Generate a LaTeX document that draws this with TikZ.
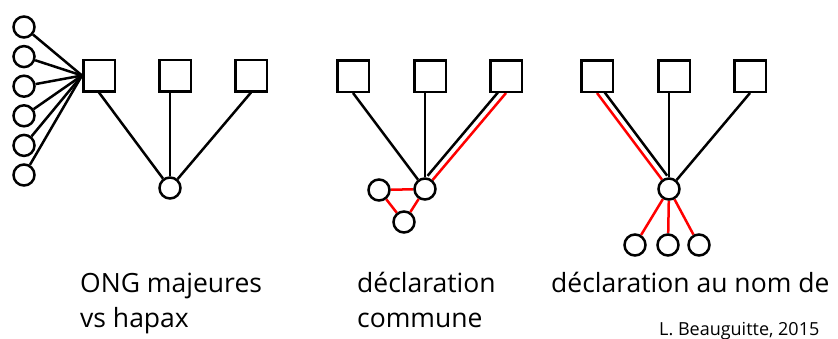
\documentclass[tikz,border=0pt]{standalone}
\usepackage{fontspec}
\setmainfont{Open Sans}
\usetikzlibrary{backgrounds}
\definecolor{linkred}{RGB}{255,0,0}

\begin{document}
\begin{tikzpicture}[x=1pt,y=-1pt,
    org/.style={draw,line width=2.5pt,fill=white,minimum size=31.5pt,inner sep=0pt},
    act/.style={draw,circle,line width=2.5pt,fill=white,minimum size=21pt,inner sep=0pt},
    tie/.style={line width=2.5pt},
    redtie/.style={line width=2.5pt,linkred},
    lbl/.style={anchor=base west,inner sep=0pt,font=\fontsize{26.5}{32}\selectfont}]
    \useasboundingbox (0,0) rectangle (838,338);

    % ONG majeures vs hapax
    \node[org] (s11) at (99,75.5) {};
    \node[org] (s12) at (175,75.5) {};
    \node[org] (s13) at (251,75.5) {};
    \node[act] (c1) at (170,188) {};
    \foreach \i in {0,...,5}
        \node[act] (h\i) at (24,27+29.6*\i) {};

    % declaration commune
    \node[org] (s21) at (353,76) {};
    \node[org] (s22) at (430,76) {};
    \node[org] (s23) at (506,76) {};
    \node[act] (c2) at (425,189) {};
    \node[act] (a2) at (379,190) {};
    \node[act] (b2) at (404,222) {};

    % declaration au nom de
    \node[org] (s31) at (597,76) {};
    \node[org] (s32) at (674,76) {};
    \node[org] (s33) at (750,76) {};
    \node[act] (c3) at (669,189) {};
    \node[act] (d1) at (635,245) {};
    \node[act] (d2) at (668,245) {};
    \node[act] (d3) at (699,245) {};

    \begin{pgfonlayer}{background}
        \foreach \i in {0,...,5}
            \draw[tie] (h\i) -- (s11.west);
        \draw[tie] (s11.south) -- (c1);
        \draw[tie] (s12.south -| c1) -- (c1);
        \draw[tie] (s13.south) -- (c1);

        \draw[tie] (s21.south) -- (c2);
        \draw[tie] (s22.south -| c2) -- (c2);
        \draw[redtie] (s23.south) -- (c2);
        \draw[tie,transform canvas={shift={(-5,-4.2)}}] (s23.south) -- (c2);
        \draw[redtie] (c2) -- (a2);
        \draw[redtie] (a2) -- (b2);
        \draw[redtie] (b2) -- (c2);

        \draw[redtie] (s31.south) -- (c3);
        \draw[tie,transform canvas={shift={(5.2,-3.9)}}] (s31.south) -- (c3);
        \draw[tie] (s32.south -| c3) -- (c3);
        \draw[tie] (s33.south) -- (c3);
        \foreach \d in {d1,d2,d3}
            \draw[redtie] (c3) -- (\d);
    \end{pgfonlayer}

    % labels
    \node[lbl] (t1) at (80,292) {ONG majeures};
    \node[lbl] (t1b) at (80,327) {vs hapax};
    \node[lbl] (t2) at (357,292) {déclaration};
    \node[lbl] (t2b) at (357,327) {commune};
    \node[lbl] (t3) at (551,292) {déclaration au nom de};
    \node[lbl,font=\fontsize{18}{21}\selectfont] (t4) at (659,335) {L. Beauguitte, 2015};
\end{tikzpicture}
\end{document}
